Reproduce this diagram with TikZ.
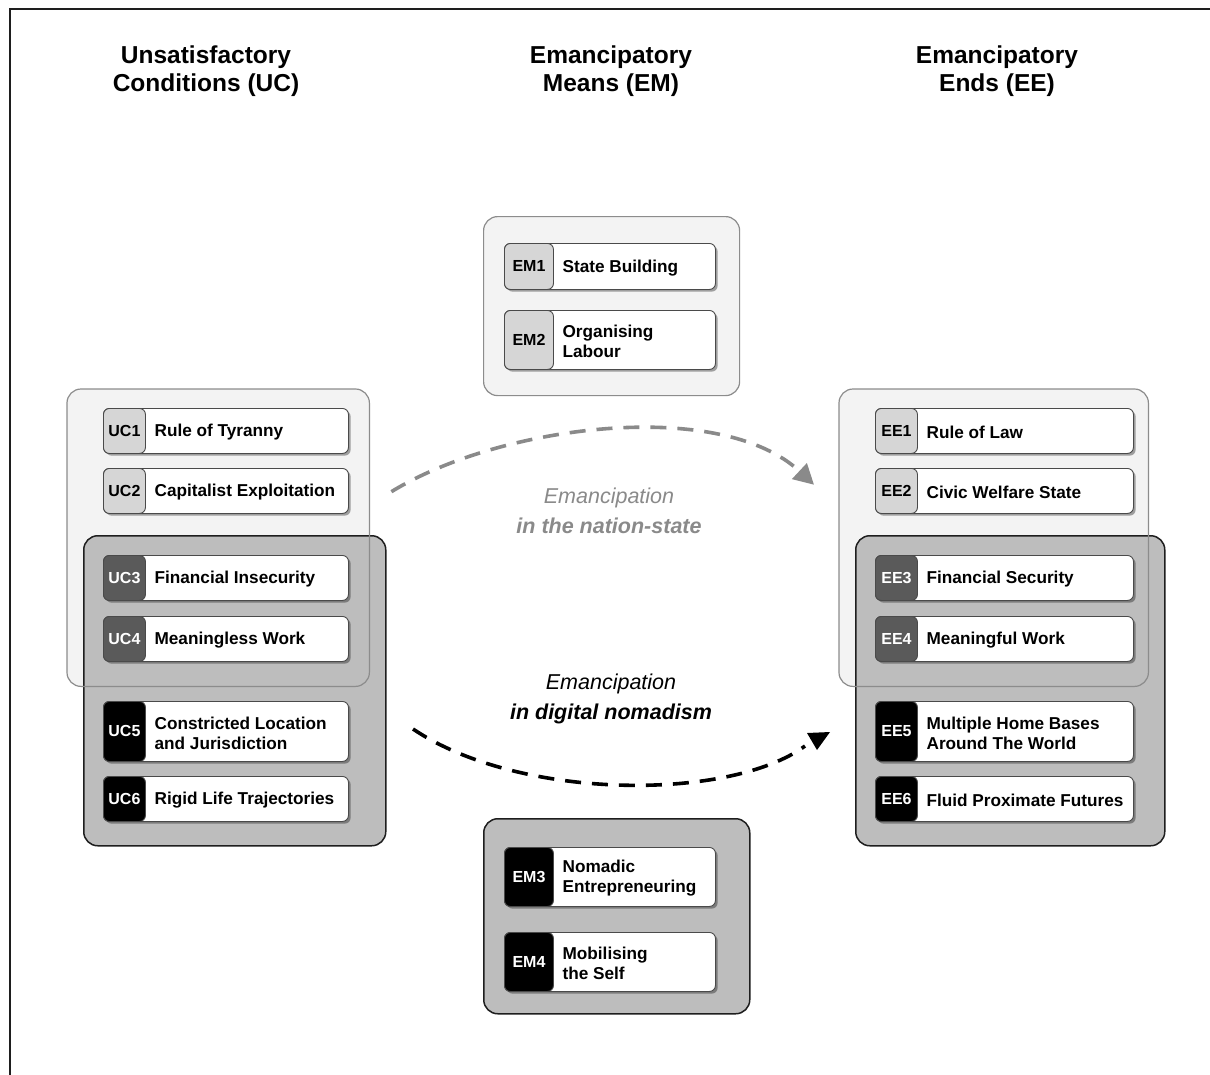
\documentclass[tikz,border=0pt]{standalone}
\usepackage{fontspec}
\setmainfont{Liberation Sans}
\usetikzlibrary{arrows.meta,shadows,calc}
\definecolor{grplight}{HTML}{F3F3F3}
\definecolor{grplightline}{HTML}{8C8C8C}
\definecolor{grpdark}{HTML}{BDBDBD}
\definecolor{grpdarkline}{HTML}{1E1E1E}
\definecolor{lablight}{HTML}{D6D6D6}
\definecolor{labmid}{HTML}{5A5A5A}
\definecolor{itemline}{HTML}{4A4A4A}
\definecolor{arrowgray}{HTML}{8A8A8A}
\begin{document}
\begin{tikzpicture}[x=1pt,y=-1pt,
  titletext/.style={font=\fontsize{24.5pt}{28.5pt}\selectfont\bfseries, align=center, inner sep=0pt},
  grouplight/.style={rectangle, rounded corners=14pt, fill=grplight, inner sep=0pt, anchor=north west},
  grouplightline/.style={draw=grplightline, line width=1.2pt, rounded corners=14pt},
  groupdark/.style={rectangle, rounded corners=14pt, fill=grpdark, draw=grpdarkline, line width=1.5pt, inner sep=0pt, anchor=north west},
  itembox/.style={rectangle, rounded corners=6pt, fill=white, draw=itemline, line width=0.9pt, inner sep=0pt, anchor=north west,
    drop shadow={shadow xshift=2.2pt, shadow yshift=-2.2pt, fill=black, opacity=0.35}},
  labbox/.style={rectangle, rounded corners=6pt, draw=itemline, line width=0.9pt, inner sep=0pt, anchor=north west,
    font=\fontsize{16pt}{19pt}\selectfont\bfseries},
  labA/.style={fill=lablight, text=black},
  labB/.style={fill=labmid, text=white},
  labC/.style={fill=black, text=white},
  itemtext/.style={font=\fontsize{17.2pt}{20pt}\selectfont\bfseries, align=left, inner sep=0pt, anchor=west},
  flowlabel/.style={font=\fontsize{21.5pt}{29.5pt}\selectfont, align=center, inner sep=0pt},
  dashline/.style={line width=3.6pt, dash pattern=on 16pt off 11pt}
]
\useasboundingbox (0,0) rectangle (1210,1074);
\fill[white] (0,0) rectangle (1210,1074);
\draw[line width=2pt, color=grpdarkline] (10,1080) -- (10,9) -- (1220,9);

\newcommand\Item[9]{%
  \node[itembox, minimum width=#4pt, minimum height=#5pt] (#1) at (#2,#3) {};
  \node[labbox, #7, minimum width=#6pt, minimum height=#5pt] (#1l) at (#1.north west) {#8};
  \node[itemtext] (#1t) at ([xshift=8.5pt,yshift=-1.5pt]#1l.east) {#9};
}

% titles
\node[titletext] (tuc) at (206,71) {Unsatisfactory\\Conditions (UC)};
\node[titletext] (tem) at (611,71) {Emancipatory\\Means (EM)};
\node[titletext] (tee) at (997,71) {Emancipatory\\Ends (EE)};

% group boxes
\node[grouplight, minimum width=302pt, minimum height=297pt] (ucA) at (67,389) {};
\node[groupdark, minimum width=302pt, minimum height=310pt] (ucB) at (83,535) {};
\draw[grouplightline] (ucA.north west) rectangle (ucA.south east);

\node[grouplight, minimum width=309pt, minimum height=297pt] (eeA) at (839,389) {};
\node[groupdark, minimum width=309pt, minimum height=310pt] (eeB) at (855,535) {};
\draw[grouplightline] (eeA.north west) rectangle (eeA.south east);

\node[grouplight, draw=grplightline, line width=1.2pt, minimum width=256pt, minimum height=179pt] (emA) at (483,216) {};
\node[groupdark, minimum width=266pt, minimum height=195pt] (emB) at (483,818) {};

% UC items
\Item{uc1}{103}{408}{245}{45}{42}{labA}{UC1}{Rule of Tyranny}
\Item{uc2}{103}{468}{245}{45}{42}{labA}{UC2}{Capitalist Exploitation}
\Item{uc3}{103}{555}{245}{45}{42}{labB}{UC3}{Financial Insecurity}
\Item{uc4}{103}{616}{245}{45}{42}{labB}{UC4}{Meaningless Work}
\Item{uc5}{103}{701}{245}{60}{42}{labC}{UC5}{Constricted Location\\and Jurisdiction}
\Item{uc6}{103}{776}{245}{45}{42}{labC}{UC6}{Rigid Life Trajectories}

% EE items
\Item{ee1}{875}{408}{258}{45}{42}{labA}{EE1}{Rule of Law}
\Item{ee2}{875}{468}{258}{45}{42}{labA}{EE2}{Civic Welfare State}
\Item{ee3}{875}{555}{258}{45}{42}{labB}{EE3}{Financial Security}
\Item{ee4}{875}{616}{258}{45}{42}{labB}{EE4}{Meaningful Work}
\Item{ee5}{875}{701}{258}{60}{42}{labC}{EE5}{Multiple Home Bases\\Around The World}
\Item{ee6}{875}{776}{258}{45}{42}{labC}{EE6}{Fluid Proximate Futures}

% EM items
\Item{em1}{504}{243}{211}{46}{49}{labA}{EM1}{State Building}
\Item{em2}{504}{310}{211}{59}{49}{labA}{EM2}{Organising\\Labour}
\Item{em3}{504}{847}{211}{59}{49}{labC}{EM3}{Nomadic\\Entrepreneuring}
\Item{em4}{504}{932}{211}{59}{49}{labC}{EM4}{Mobilising\\the Self}

% flows
\coordinate (gs) at ($(ucA.east)+(22,-46)$);
\coordinate (ge) at ($(eeA.west)+(-25,-53)$);
\draw[dashline, color=arrowgray, -{Triangle[length=20pt,width=21pt]}]
  (gs) .. controls (500,425) and (720,397) .. (ge);
\node[flowlabel, text=arrowgray] (lab1) at (609,511) {\itshape Emancipation\\\bfseries\itshape in the nation-state};

\coordinate (bs) at (413,729);
\coordinate (be) at (805,746);
\draw[dashline, color=black] (bs) .. controls (520,801) and (730,801) .. (be);
\fill[black] (807,733) -- (830,732) -- (817,750) -- cycle;
\node[flowlabel, text=black] (lab2) at (611,699) {\itshape Emancipation\\\bfseries\itshape in digital nomadism};
\end{tikzpicture}
\end{document}
